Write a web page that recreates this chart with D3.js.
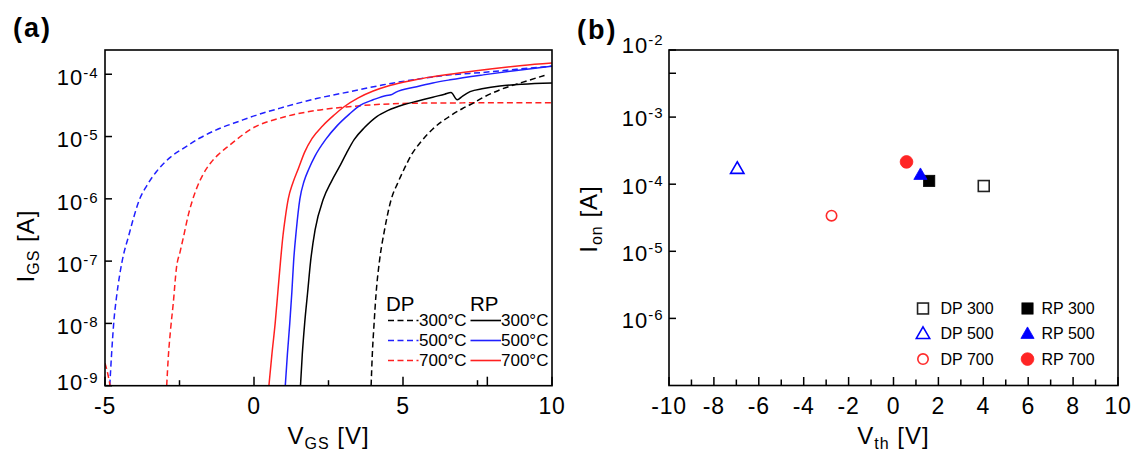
<!DOCTYPE html>
<html><head><meta charset="utf-8">
<script src="https://cdn.jsdelivr.net/npm/d3@7"></script>
<style>html,body{margin:0;padding:0;background:#fff;}svg{display:block;}</style>
</head><body>
<svg id="c" width="1143" height="462"></svg>
<script>
// ---------- Panel (a) data: [V_GS (V), I_GS (A)] ----------
const dp300 = [[3.93,1.0e-9],[3.97,3.16e-9],[4.03,1.0e-8],[4.10,3.16e-8],[4.21,1.0e-7],[4.38,3.16e-7],[4.61,1.0e-6],[4.82,1.78e-6],[5.06,3.16e-6],[5.30,5.25e-6],[5.61,8.32e-6],[6.00,1.32e-5],[6.58,2.14e-5],[7.00,2.82e-5],[7.25,3.24e-5],[7.70,4.27e-5],[8.25,5.62e-5],[9.00,7.41e-5],[9.75,9.55e-5]];
const dp500 = [[-4.84,1.0e-9],[-4.78,3.16e-9],[-4.70,1.12e-8],[-4.62,2.51e-8],[-4.50,6.31e-8],[-4.38,1.26e-7],[-4.22,2.40e-7],[-4.05,4.79e-7],[-3.85,9.55e-7],[-3.60,1.62e-6],[-3.27,2.75e-6],[-2.80,4.68e-6],[-2.37,6.46e-6],[-1.80,9.55e-6],[-1.20,1.32e-5],[-0.47,1.78e-5],[-0.13,2.04e-5],[0.98,2.95e-5],[2.10,4.07e-5],[3.22,5.25e-5],[4.34,6.76e-5],[5.46,8.32e-5],[6.58,9.77e-5],[7.69,1.07e-4],[8.81,1.20e-4],[10.0,1.35e-4]];
const dp700Edge = [[-5.00,2.3e-9],[-4.90,1.5e-9],[-4.83,1.0e-9]];
const dp700 = [[-2.93,1.0e-9],[-2.87,3.16e-9],[-2.80,7.94e-9],[-2.71,2.09e-8],[-2.60,7.94e-8],[-2.48,1.41e-7],[-2.37,2.40e-7],[-2.20,5.62e-7],[-2.05,1.0e-6],[-1.90,1.58e-6],[-1.70,2.51e-6],[-1.45,3.80e-6],[-1.20,5.13e-6],[-0.90,6.76e-6],[-0.64,8.51e-6],[-0.13,1.29e-5],[0.98,2.04e-5],[2.10,2.63e-5],[2.99,2.95e-5],[4.34,3.31e-5],[5.50,3.43e-5],[7.00,3.47e-5],[8.50,3.50e-5],[10.0,3.50e-5]];
const rp300 = [[1.56,1.0e-9],[1.62,3.16e-9],[1.70,1.0e-8],[1.80,3.16e-8],[1.90,1.0e-7],[2.05,3.16e-7],[2.33,1.0e-6],[2.60,1.91e-6],[2.85,3.16e-6],[3.10,5.37e-6],[3.36,8.91e-6],[3.70,1.38e-5],[4.12,2.09e-5],[4.50,2.63e-5],[5.01,3.24e-5],[5.50,3.72e-5],[6.00,4.27e-5],[6.40,4.79e-5],[6.61,5.07e-5],[6.82,3.89e-5],[7.00,4.47e-5],[7.25,5.25e-5],[7.70,5.89e-5],[8.25,6.46e-5],[9.00,6.92e-5],[10.0,7.24e-5]];
const rp500 = [[1.05,1.0e-9],[1.12,3.16e-9],[1.20,1.0e-8],[1.27,3.16e-8],[1.33,1.0e-7],[1.42,3.16e-7],[1.54,1.0e-6],[1.68,1.91e-6],[1.84,3.02e-6],[2.05,4.90e-6],[2.40,8.91e-6],[2.80,1.51e-5],[3.20,2.29e-5],[3.56,3.16e-5],[4.00,3.89e-5],[4.45,4.57e-5],[4.60,4.68e-5],[4.75,5.13e-5],[5.46,6.31e-5],[6.00,7.24e-5],[6.58,8.13e-5],[7.69,9.77e-5],[8.81,1.15e-4],[10.0,1.35e-4]];
const rp700 = [[0.50,1.0e-9],[0.60,3.16e-9],[0.71,1.0e-8],[0.80,3.16e-8],[0.89,1.0e-7],[0.97,2.51e-7],[1.05,5.01e-7],[1.15,1.0e-6],[1.30,1.78e-6],[1.50,3.16e-6],[1.70,5.62e-6],[1.95,9.33e-6],[2.30,1.48e-5],[2.70,2.24e-5],[3.00,2.95e-5],[3.50,4.17e-5],[4.00,5.37e-5],[4.50,6.46e-5],[5.00,7.41e-5],[5.50,8.32e-5],[6.00,9.12e-5],[7.00,1.07e-4],[8.00,1.23e-4],[9.00,1.38e-4],[10.0,1.51e-4]];

const aXTicks = [-5, 0, 5, 10];
const aXMinor = [-2.5, 2.5, 7.5];
const aXExtra = [7.83];
const aYTicks = [1e-4, 1e-5, 1e-6, 1e-7, 1e-8, 1e-9];
const aYExp = ["-4", "-5", "-6", "-7", "-8", "-9"];
const aTemps = ["300°C", "500°C", "700°C"];

// ---------- Panel (b) data ----------
const bNames = ["DP 300", "DP 500", "DP 700", "RP 300", "RP 500", "RP 700"];
const bVth = [4.02, -6.96, -2.76, 1.59, 1.20, 0.58];
const bIon = [9.4e-5, 1.7e-4, 3.4e-5, 1.12e-4, 1.38e-4, 2.15e-4];
const bXTicks = [-10, -8, -6, -4, -2, 0, 2, 4, 6, 8, 10];
const bXMinor = [-9, -7, -5, -3, -1, 1, 3, 5, 7, 9];
const bYTicks = [1e-2, 1e-3, 1e-4, 1e-5, 1e-6];
const bYExp = ["-2", "-3", "-4", "-5", "-6"];
const bYMinor = [4.5e-3];

// ---------- styles ----------
const FONT = "'Liberation Sans', Arial, Helvetica, sans-serif";
const RED = "#ff2020", BLUE = "#2020ff", BLACK = "#000";
const DASH = "6,3.5";

const svg = d3.select("#c");
svg.append("rect").attr("width",1143).attr("height",462).attr("fill","#fff");

const xa = d3.scaleLinear().domain([-5, 10]).range([105, 552]);
const ya = d3.scaleLog().domain([1e-9, 2.45e-4]).range([385.7, 50]);
const xb = d3.scaleLinear().domain([-10, 10]).range([669, 1118]);
const yb = d3.scaleLog().domain([1e-7, 1e-2]).range([385.5, 50]);

// ---------- Panel (a) ----------
const ga = svg.append("g");
ga.append("defs").append("clipPath").attr("id","clipA")
  .append("rect").attr("x",xa.range()[0]).attr("y",ya.range()[1])
  .attr("width",xa.range()[1]-xa.range()[0]).attr("height",ya.range()[0]-ya.range()[1]);

const lineA = d3.line().x(d=>xa(d[0])).y(d=>ya(d[1])).curve(d3.curveMonotoneX);
const curves = [
  {d: dp500, c: BLUE, dash: true},
  {d: dp700, c: RED, dash: true},
  {d: dp700Edge, c: RED, dash: true},
  {d: dp300, c: BLACK, dash: true},
  {d: rp300, c: BLACK, dash: false},
  {d: rp500, c: BLUE, dash: false},
  {d: rp700, c: RED, dash: false}
];
const cg = ga.append("g").attr("clip-path","url(#clipA)");
curves.forEach(s=>{
  cg.append("path").attr("d", lineA(s.d)).attr("fill","none")
    .attr("stroke", s.c).attr("stroke-width",1.5)
    .attr("stroke-dasharray", s.dash ? DASH : null);
});

function frame(g, x, y){
  g.append("rect").attr("x",x.range()[0]).attr("y",y.range()[1])
   .attr("width",x.range()[1]-x.range()[0]).attr("height",y.range()[0]-y.range()[1])
   .attr("fill","none").attr("stroke","#000").attr("stroke-width",1.6);
}
frame(ga, xa, ya);

function xTicks(g, x, y, vals, len){
  const y0 = y.range()[0];
  g.selectAll(null).data(vals).enter().append("line")
   .attr("x1",d=>x(d)).attr("x2",d=>x(d)).attr("y1",y0).attr("y2",y0-len)
   .attr("stroke","#000").attr("stroke-width",1.5);
}
function yTicks(g, x, y, vals, len){
  const x0 = x.range()[0];
  g.selectAll(null).data(vals).enter().append("line")
   .attr("x1",x0).attr("x2",x0+len).attr("y1",d=>y(d)).attr("y2",d=>y(d))
   .attr("stroke","#000").attr("stroke-width",1.5);
}
xTicks(ga, xa, ya, aXTicks, 9);
xTicks(ga, xa, ya, aXMinor, 5.5);
xTicks(ga, xa, ya, aXExtra, 9);
yTicks(ga, xa, ya, aYTicks, 7);

ga.selectAll(null).data(aXTicks).enter().append("text")
  .attr("x",d=>xa(d)).attr("y",413.5).attr("text-anchor","middle")
  .attr("font-family",FONT).attr("font-size",23).attr("letter-spacing",0.8)
  .text(d=>d);

function yLabels(g, y, vals, exps, xRight, base, supDy, lowShift, topShift){
  vals.forEach((v,i)=>{
    let yy = y(v) + base;
    if (v === y.domain()[0]) yy -= lowShift;
    if (v === y.domain()[1]) yy -= topShift;
    const t = g.append("text").attr("x",xRight).attr("y",yy).attr("text-anchor","end")
      .attr("font-family",FONT).attr("fill","#000");
    t.append("tspan").attr("font-size",22).attr("letter-spacing",1).text("10");
    t.append("tspan").attr("font-size",15).attr("letter-spacing",1).attr("dy",supDy).text(exps[i]);
  });
}
yLabels(ga, ya, aYTicks, aYExp, 98.5, 10.7, -7, 6, 0);

// axis titles
function xTitle(g, cx, main, sub){
  const t = g.append("text").attr("x",cx).attr("y",443.5).attr("text-anchor","middle")
    .attr("font-family",FONT).attr("letter-spacing",1);
  t.append("tspan").attr("font-size",24).text(main);
  t.append("tspan").attr("font-size",16).attr("dy",5).text(sub);
  t.append("tspan").attr("font-size",24).attr("dy",-5).text(" [V]");
}
function yTitle(g, bx, cy, main, sub){
  const t = g.append("text").attr("transform",`translate(${bx},${cy}) rotate(-90)`)
    .attr("text-anchor","middle").attr("font-family",FONT).attr("letter-spacing",1);
  t.append("tspan").attr("font-size",24).text(main);
  t.append("tspan").attr("font-size",16).attr("dy",5).text(sub);
  t.append("tspan").attr("font-size",24).attr("dy",-5).text(" [A]");
}
xTitle(ga, 328.5, "V", "GS");
yTitle(ga, 34, 246, "I", "GS");

ga.append("text").attr("x",13).attr("y",37).attr("font-family",FONT)
  .attr("font-weight","bold").attr("font-size",27).attr("letter-spacing",2).text("(a)");

// legend (a)
const lg = ga.append("g").attr("font-family",FONT);
lg.append("text").attr("x",386).attr("y",310.7).attr("font-size",20.5).text("DP");
lg.append("text").attr("x",470).attr("y",310.7).attr("font-size",20.5).text("RP");
const legColors = [BLACK, BLUE, RED];
aTemps.forEach((tx,i)=>{
  const by = 326 + i*20;
  lg.append("line").attr("x1",388).attr("x2",418.5).attr("y1",by-5.5).attr("y2",by-5.5)
    .attr("stroke",legColors[i]).attr("stroke-width",1.6).attr("stroke-dasharray",DASH);
  lg.append("text").attr("x",419).attr("y",by).attr("font-size",17).text(tx);
  lg.append("line").attr("x1",470.5).attr("x2",501).attr("y1",by-5.5).attr("y2",by-5.5)
    .attr("stroke",legColors[i]).attr("stroke-width",1.6);
  lg.append("text").attr("x",501).attr("y",by).attr("font-size",17).text(tx);
});

// ---------- Panel (b) ----------
const gb = svg.append("g");
frame(gb, xb, yb);
xTicks(gb, xb, yb, bXTicks, 8.5);
xTicks(gb, xb, yb, bXMinor, 6);
yTicks(gb, xb, yb, bYTicks, 7);
yTicks(gb, xb, yb, bYMinor, 7);

gb.selectAll(null).data(bXTicks).enter().append("text")
  .attr("x",d=>xb(d)).attr("y",414).attr("text-anchor","middle")
  .attr("font-family",FONT).attr("font-size",23).attr("letter-spacing",0.8)
  .text(d=>d);
yLabels(gb, yb, bYTicks, bYExp, 663.5, 9.3, -8, 0, 6.5);

xTitle(gb, 893.5, "V", "th");
yTitle(gb, 596.5, 219, "I", "on");
gb.append("text").attr("x",577).attr("y",38.5).attr("font-family",FONT)
  .attr("font-weight","bold").attr("font-size",27).attr("letter-spacing",2).text("(b)");

// markers
const markerStyle = [
  {shape:"square", fill:"none", stroke:"#222", size:12.5},
  {shape:"triangle", fill:"none", stroke:"#0000ff", size:15},
  {shape:"circle", fill:"none", stroke:"#ff2a2a", size:12},
  {shape:"square", fill:"#000", stroke:"#000", size:12},
  {shape:"triangle", fill:"#0000ff", stroke:"#0000ff", size:14},
  {shape:"circle", fill:"#ff2525", stroke:"#ff2525", size:13.5}
];
function drawMarker(g, cx, cy, st){
  const open = st.fill === "none";
  const sw = open ? 1.6 : 0.8;
  if (st.shape === "square"){
    const s = st.size - sw;
    g.append("rect").attr("x",cx-s/2).attr("y",cy-s/2).attr("width",s).attr("height",s)
      .attr("fill",st.fill).attr("stroke",st.stroke).attr("stroke-width",sw);
  } else if (st.shape === "circle"){
    g.append("circle").attr("cx",cx).attr("cy",cy).attr("r",(st.size-sw)/2)
      .attr("fill",st.fill).attr("stroke",st.stroke).attr("stroke-width",sw);
  } else {
    const w = st.size - sw, h = w*0.87;
    const pts = [[cx, cy-h*0.6],[cx+w/2, cy+h*0.4],[cx-w/2, cy+h*0.4]];
    g.append("path").attr("d","M"+pts.map(p=>p.join(",")).join("L")+"Z")
      .attr("fill",st.fill).attr("stroke",st.stroke).attr("stroke-width",sw)
      .attr("stroke-linejoin","miter");
  }
}
const order = [0,2,1,3,4,5];
order.forEach(i=>drawMarker(gb, xb(bVth[i]), yb(bIon[i]), markerStyle[i]));

// legend (b)
const lb = gb.append("g").attr("font-family",FONT);
bNames.forEach((nm,i)=>{
  const col = i < 3 ? 0 : 1;
  const row = i % 3;
  const sx = col === 0 ? 923 : 1027.5;
  const tx = col === 0 ? 940.5 : 1041.5;
  const cy = 308.5 + row*25.3;
  drawMarker(lb, sx, cy, markerStyle[i]);
  lb.append("text").attr("x",tx).attr("y",cy+5.5).attr("font-size",16).text(nm);
});
</script>
</body></html>
